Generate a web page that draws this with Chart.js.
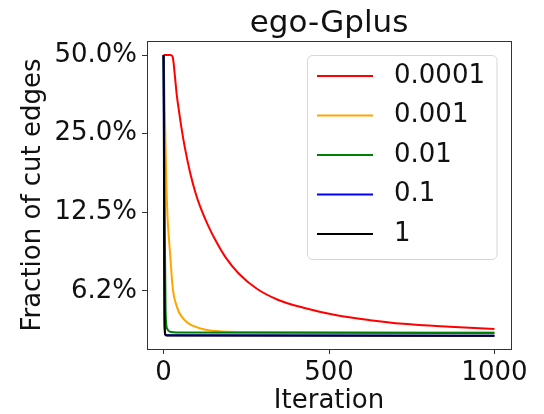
<!DOCTYPE html>
<html>
<head>
<meta charset="utf-8">
<script src="https://cdn.jsdelivr.net/npm/chart.js@4"></script>
<style>
  html, body { margin: 0; padding: 0; background: #fff; }
</style>
</head>
<body>
<canvas id="chart" width="544" height="414"></canvas>
<script>
const rates = ['0.0001', '0.001', '0.01', '0.1', '1'];
const colors = ['#ff0000', '#ffa500', '#008000', '#0000ff', '#000000'];

const iterRed = [0, 10, 20, 25, 28, 30, 35, 40, 47, 55, 65, 80, 96, 111, 132, 157, 187, 227, 282, 347, 423, 523, 624, 724, 865, 1000];
const fracRed = [0.5, 0.5, 0.5, 0.498, 0.489, 0.471, 0.407, 0.351, 0.303, 0.259, 0.219, 0.178, 0.1492, 0.131, 0.1131, 0.0976, 0.0842, 0.0729, 0.0637, 0.0577, 0.0539, 0.0504, 0.0483, 0.0468, 0.0456, 0.0447];

const iterOrange = [0, 4, 8, 12, 16, 21, 26, 31, 36, 46, 56, 70, 86, 127, 177, 250, 1000];
const fracOrange = [0.5, 0.3, 0.17, 0.12, 0.1, 0.083, 0.0676, 0.06, 0.0566, 0.052, 0.0496, 0.0475, 0.0461, 0.0444, 0.0437, 0.0435, 0.0434];

const iterGreen = [0, 2, 4, 6, 8, 12, 20, 40, 1000];
const fracGreen = [0.5, 0.25, 0.1, 0.055, 0.047, 0.0445, 0.0436, 0.0433, 0.0431];

const iterBlue = [0, 1, 2, 3, 5, 10, 1000];
const fracBlue = [0.5, 0.3, 0.1, 0.05, 0.0428, 0.0423, 0.0421];

const iterBlack = [0, 1, 2, 3, 5, 10, 1000];
const fracBlack = [0.5, 0.25, 0.08, 0.047, 0.0425, 0.0422, 0.0421];

const xTicks = [0, 500, 1000];
const xTickLabels = ['0', '500', '1000'];
const yTicks = [0.5, 0.25, 0.125, 0.0625];
const yTickLabels = ['50.0%', '25.0%', '12.5%', '6.2%'];

const FONT = '"DejaVu Sans", sans-serif';

function series(iters, fracs) {
  return iters.map((x, i) => ({ x: x, y: fracs[i] }));
}

const allIters = [iterRed, iterOrange, iterGreen, iterBlue, iterBlack];
const allFracs = [fracRed, fracOrange, fracGreen, fracBlue, fracBlack];

const datasets = rates.map((r, i) => ({
  label: r,
  data: series(allIters[i], allFracs[i]),
  borderColor: colors[i],
  borderWidth: 2,
  pointRadius: 0,
  fill: false,
  cubicInterpolationMode: 'monotone',
  order: rates.length - i
}));

// spines, title and the legend box drawn by hand, like matplotlib does
const frame = {
  id: 'frame',
  afterDatasetsDraw(chart) {
    const a = chart.chartArea;
    const ctx = chart.ctx;
    ctx.save();
    ctx.strokeStyle = '#333';
    ctx.lineWidth = 1;
    ctx.strokeRect(Math.round(a.left) + 0.5, Math.round(a.top) + 0.5,
      Math.round(a.right - a.left), Math.round(a.bottom - a.top));
    ctx.restore();
  },
  afterDraw(chart) {
    const a = chart.chartArea;
    const ctx = chart.ctx;
    ctx.save();
    ctx.fillStyle = '#111';
    ctx.font = '31px ' + FONT;
    ctx.textAlign = 'center';
    ctx.textBaseline = 'alphabetic';
    ctx.fillText('ego-Gplus', (a.left + a.right) / 2, 32);

    ctx.beginPath();
    ctx.roundRect(307.5, 55.5, 189.5, 204, 5);
    ctx.fillStyle = 'rgba(255,255,255,0.8)';
    ctx.fill();
    ctx.strokeStyle = '#d6d6d6';
    ctx.lineWidth = 1;
    ctx.stroke();

    ctx.font = '26px ' + FONT;
    ctx.textAlign = 'left';
    ctx.textBaseline = 'middle';
    chart.data.datasets.forEach((ds, i) => {
      const y = 76 + 39.5 * i;
      ctx.beginPath();
      ctx.moveTo(317, y);
      ctx.lineTo(373, y);
      ctx.strokeStyle = ds.borderColor;
      ctx.lineWidth = 2;
      ctx.stroke();
      ctx.fillStyle = '#111';
      ctx.fillText(ds.label, 394, y);
    });
    ctx.restore();
  }
};

new Chart(document.getElementById('chart'), {
  type: 'line',
  data: { datasets: datasets },
  options: {
    responsive: false,
    animation: false,
    layout: { padding: { top: 41, right: 33, left: 0, bottom: 0 } },
    plugins: {
      legend: { display: false },
      tooltip: { enabled: false },
      title: { display: false }
    },
    scales: {
      x: {
        type: 'linear',
        min: -50,
        max: 1050,
        afterBuildTicks: s => { s.ticks = xTicks.map(v => ({ value: v })); },
        afterFit: s => { s.height = 65; },
        grid: { drawOnChartArea: false, drawTicks: true, tickLength: 5, tickColor: '#333' },
        border: { display: false },
        ticks: {
          font: { family: FONT, size: 26 }, color: '#111', padding: 4, maxRotation: 0, autoSkip: false,
          callback: (v, i) => xTickLabels[i]
        },
        title: { display: true, text: 'Iteration', color: '#111', font: { family: FONT, size: 26, lineHeight: 1 }, padding: 0 }
      },
      y: {
        type: 'logarithmic',
        min: 0.03745,
        max: 0.5657,
        afterBuildTicks: s => { s.ticks = yTicks.map(v => ({ value: v })); },
        afterFit: s => { s.width = 147; },
        grid: { drawOnChartArea: false, drawTicks: true, tickLength: 5, tickColor: '#333' },
        border: { display: false },
        ticks: {
          font: { family: FONT, size: 26 }, color: '#111', padding: 5, autoSkip: false,
          callback: (v, i) => yTickLabels[i]
        },
        title: { display: true, text: 'Fraction of cut edges', color: '#111', font: { family: FONT, size: 26, lineHeight: 1 }, padding: { top: 20 } }
      }
    }
  },
  plugins: [frame]
});
</script>
</body>
</html>
